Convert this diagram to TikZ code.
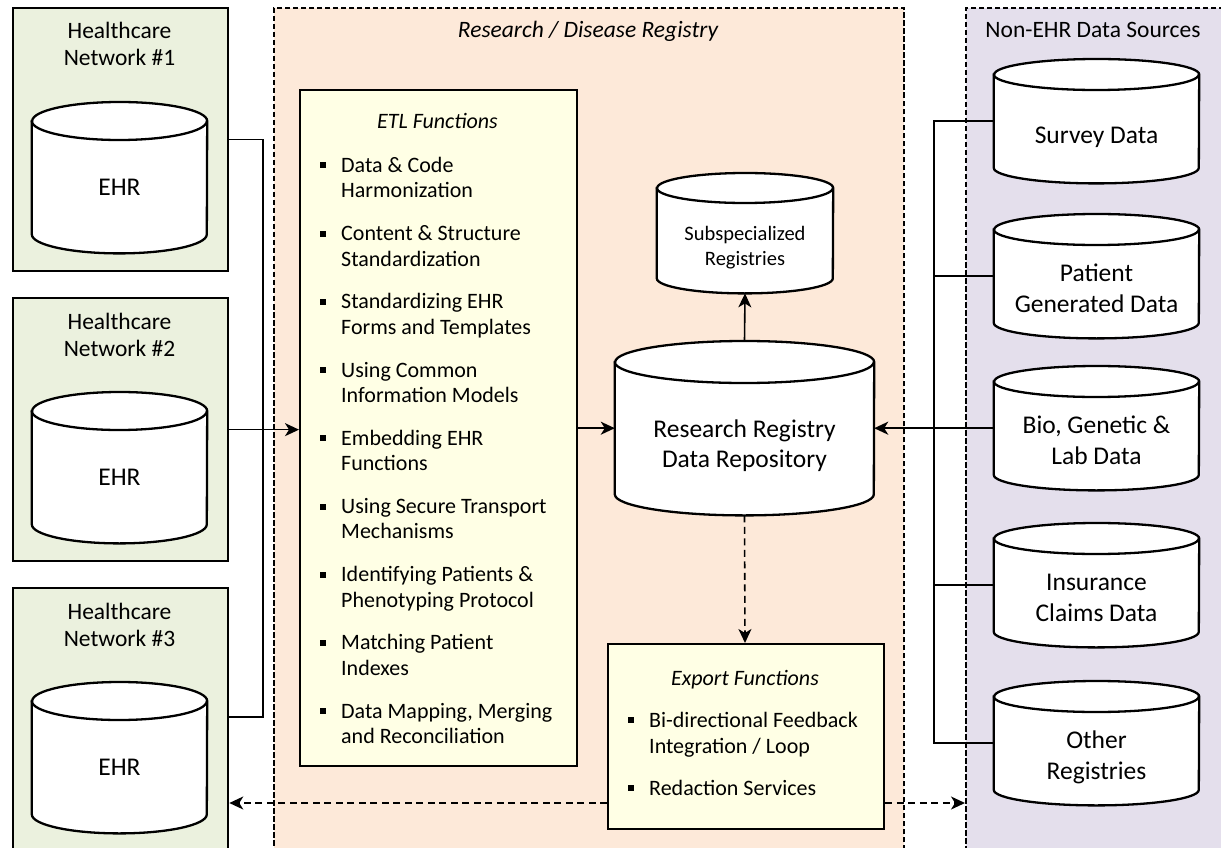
\documentclass[tikz,border=0pt]{standalone}
\usepackage{fontspec}
\setmainfont{Carlito}
\usetikzlibrary{arrows.meta,calc}

\definecolor{netgreen}{HTML}{EBF1DE}
\definecolor{regpeach}{HTML}{FDE9D9}
\definecolor{srclav}{HTML}{E4DFEC}
\definecolor{fnyellow}{HTML}{FFFFE5}

\newcommand\szbig{\fontsize{25.5}{30}\selectfont}
\newcommand\sztitle{\fontsize{23.5}{27}\selectfont}
\newcommand\szlist{\fontsize{22}{25}\selectfont}
\newcommand\szsmall{\fontsize{20.5}{25}\selectfont}

% database drum: name, centre x, top y, width, height, ellipse half-height
\newcommand\drum[6]{%
  \node[inner sep=0, minimum width=#4pt, minimum height=#5pt, anchor=north] (#1) at (#2,#3) {};
  \path[drumbody] ([yshift=-#6pt]#1.north west) -- ([yshift=#6pt]#1.south west)
     arc[start angle=180, end angle=360, x radius=#4pt/2, y radius=#6pt]
     -- ([yshift=-#6pt]#1.north east)
     arc[start angle=0, end angle=180, x radius=#4pt/2, y radius=#6pt] -- cycle;
  \draw[drumedge] ([yshift=-#6pt]#1.north west)
     arc[start angle=180, end angle=360, x radius=#4pt/2, y radius=#6pt];
}

\begin{document}
\begin{tikzpicture}[x=1pt,y=-1pt,
  region/.style={draw, line width=2pt, dash pattern=on 5.5pt off 2.5pt, inner sep=0, anchor=north west},
  panel/.style={draw, line width=2.3pt, fill=netgreen, inner sep=0, anchor=north west},
  fnbox/.style={draw, line width=2.3pt, fill=fnyellow, inner sep=0, anchor=north west},
  drumbody/.style={draw, fill=white, line width=2.3pt},
  drumedge/.style={line width=2.3pt},
  txt/.style={inner sep=0, anchor=base},
  txtl/.style={inner sep=0, anchor=base west},
  bullet/.style={fill, inner sep=0, minimum size=6pt},
  conn/.style={line width=1.6pt},
  arr/.style={conn, -{Stealth[length=14pt, width=13pt, inset=4pt]}},
  dasharr/.style={arr, dash pattern=on 7pt off 4.5pt}
]
\useasboundingbox (0,0) rectangle (1221,848);
\clip (0,0) rectangle (1221,848);

% background regions
\node[region, fill=regpeach, minimum width=630pt, minimum height=860pt] (reg) at (273,7) {};
\node[region, fill=srclav, minimum width=259pt, minimum height=860pt] (srcs) at (965,7) {};
\node[txt, font=\sztitle\itshape] (regtitle) at (588,38) {Research / Disease Registry};
\node[txt, font=\sztitle] (srctitle) at (1093,38) {Non-EHR Data Sources};

% healthcare networks
\foreach \k in {1,2,3}{
  \pgfmathsetmacro\dy{290*(\k-1)}
  \node[panel, minimum width=215pt, minimum height=263pt] (hc\k) at (12,7+\dy) {};
  \node[txt, font=\sztitle] (hc\k-a) at (119.5,39+\dy) {Healthcare};
  \node[txt, font=\sztitle] (hc\k-b) at (119.5,66+\dy) {Network \#\k};
  \drum{ehr\k}{119.5}{102+\dy}{175}{151}{19}
  \node[txt, font=\szbig] (ehr\k-t) at (119.5,195+\dy) {EHR};
}

% ETL functions
\node[fnbox, minimum width=277pt, minimum height=676pt] (etl) at (299,89) {};
\node[txt, font=\szlist\itshape] (etl-t) at (437.5,129) {ETL Functions};
\foreach \i/\a/\b in {1/{Data \& Code}/Harmonization,
                      2/{Content \& Structure}/Standardization,
                      3/{Standardizing EHR}/{Forms and Templates},
                      4/{Using Common}/{Information Models},
                      5/{Embedding EHR}/Functions,
                      6/{Using Secure Transport}/Mechanisms,
                      7/{Identifying Patients \&}/{Phenotyping Protocol},
                      8/{Matching Patient}/Indexes,
                      9/{Data Mapping, Merging}/{and Reconciliation}}{
  \pgfmathsetmacro\yb{172.5+68.2*(\i-1)}
  \node[bullet] (etl-\i-m) at (322.7,\yb-7) {};
  \node[txtl, font=\szlist] (etl-\i-a) at (341,\yb) {\a};
  \node[txtl, font=\szlist] (etl-\i-b) at (341,\yb+25.3) {\b};
}

% registry repositories
\drum{repo}{744.5}{341}{259}{174}{21}
\node[txt, font=\szbig] (repo-a) at (744.5,437) {Research Registry};
\node[txt, font=\szbig] (repo-b) at (744.5,467) {Data Repository};
\drum{sub}{745}{173}{176}{120}{15}
\node[txt, font=\szsmall] (sub-a) at (745,240) {Subspecialized};
\node[txt, font=\szsmall] (sub-b) at (745,265) {Registries};

% non-EHR sources
\drum{survey}{1096.5}{59}{205}{124}{15.5}
\node[txt, font=\szbig] (survey-t) at (1096.5,143) {Survey Data};
\drum{patient}{1096.5}{214}{205}{124}{15.5}
\node[txt, font=\szbig] (patient-a) at (1096.5,281) {Patient};
\node[txt, font=\szbig] (patient-b) at (1096.5,312) {Generated Data};
\drum{bio}{1096.5}{366}{205}{124}{15.5}
\node[txt, font=\szbig] (bio-a) at (1096.5,433) {Bio, Genetic \&};
\node[txt, font=\szbig] (bio-b) at (1096.5,464) {Lab Data};
\drum{claims}{1096.5}{523}{205}{124}{15.5}
\node[txt, font=\szbig] (claims-a) at (1096.5,590) {Insurance};
\node[txt, font=\szbig] (claims-b) at (1096.5,621) {Claims Data};
\drum{other}{1096.5}{681}{205}{124}{15.5}
\node[txt, font=\szbig] (other-a) at (1096.5,748) {Other};
\node[txt, font=\szbig] (other-b) at (1096.5,779) {Registries};

% connectors
\coordinate (busL) at (263,0);
\coordinate (hc3bus) at ([yshift=-130pt]hc3.north east);
\draw[conn] (hc1.east) -- (hc1.east -| busL) -- (busL |- hc3bus) -- (hc3bus);
\draw[arr] (hc2.east) -- (etl.west |- hc2.east);
\draw[arr] (etl.east |- repo.west) -- (repo.west);
\draw[arr] (repo.north) -- (sub.south);

\coordinate (busR) at (934,0);
\draw[conn] (survey.west) -- (survey.west -| busR) -- (busR |- other.west) -- (other.west);
\draw[conn] (patient.west) -- (patient.west -| busR);
\draw[conn] (claims.west) -- (claims.west -| busR);
\draw[arr, line width=2pt] (bio.west) -- (repo.east);

\draw[dasharr] (repo.south) -- (745,643);

% export functions and feedback loop
\coordinate (fb) at (0,803);
\node[fnbox, minimum width=276pt, minimum height=185pt] (exp) at (607,643) {};
\draw[dasharr] (exp.west |- fb) -- (hc3.east |- fb);
\draw[dasharr] (exp.east |- fb) -- (srcs.west |- fb);
\node[txt, font=\szlist\itshape] (exp-t) at (745,685) {Export Functions};
\node[bullet] (exp-1-m) at (630.5,720) {};
\node[txtl, font=\szlist] (exp-1-a) at (649,727) {Bi-directional Feedback};
\node[txtl, font=\szlist] (exp-1-b) at (649,753) {Integration / Loop};
\node[bullet] (exp-2-m) at (630.5,788) {};
\node[txtl, font=\szlist] (exp-2-a) at (649,795) {Redaction Services};
\end{tikzpicture}
\end{document}
